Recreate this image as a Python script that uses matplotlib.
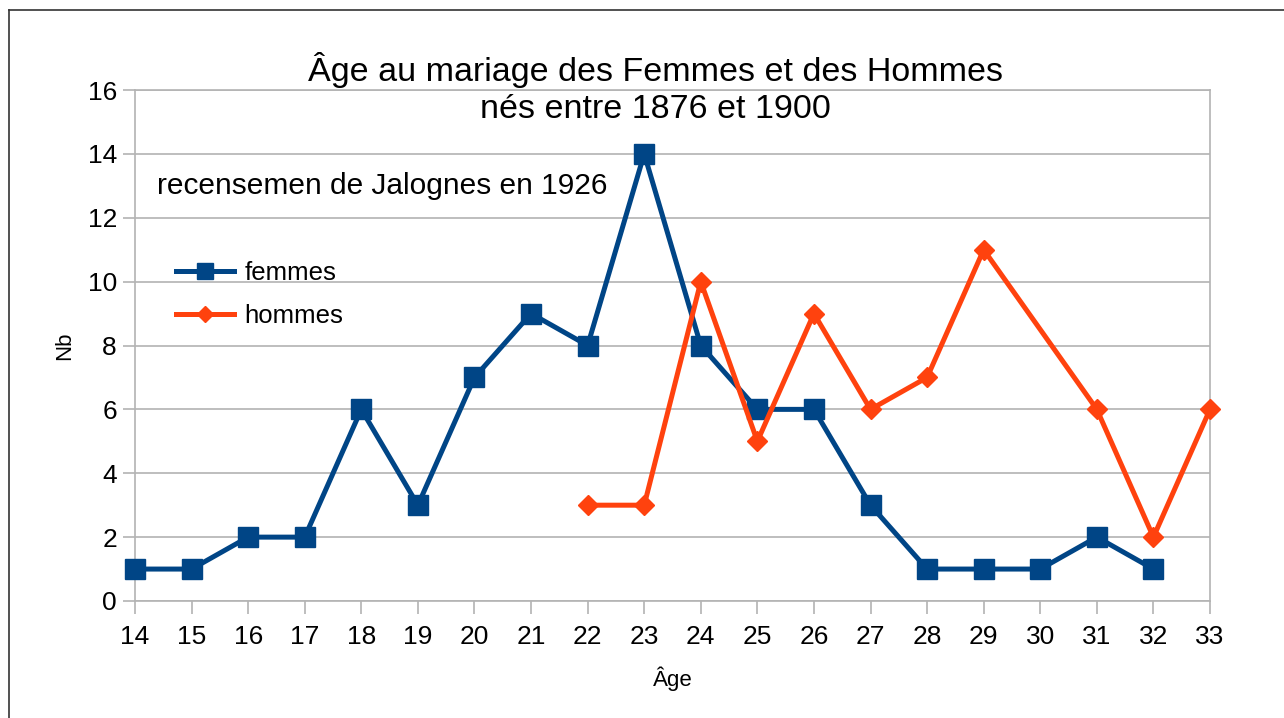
import matplotlib
matplotlib.use("Agg")
import matplotlib.pyplot as plt
from matplotlib.lines import Line2D

plt.rcParams['font.family'] = ['Liberation Sans', 'DejaVu Sans']

# data
ages_femmes = [14, 15, 16, 17, 18, 19, 20, 21, 22, 23, 24, 25, 26, 27, 28, 29, 30, 31, 32]
nb_femmes = [1, 1, 2, 2, 6, 3, 7, 9, 8, 14, 8, 6, 6, 3, 1, 1, 1, 2, 1]
ages_hommes = [22, 23, 24, 25, 26, 27, 28, 29, 31, 32, 33]
nb_hommes = [3, 3, 10, 5, 9, 6, 7, 11, 6, 2, 6]
x_ticks = list(range(14, 34))
y_ticks = list(range(0, 17, 2))

W, H = 1284, 718
fig = plt.figure(figsize=(W / 100, H / 100), dpi=100)
ax = fig.add_axes([135 / W, 1 - 601 / H, (1210 - 135) / W, (601 - 90) / H])

blue = '#004586'
orange = '#ff420e'
grey = '#b3b3b3'

ax.plot(ages_femmes, nb_femmes, color=blue, lw=3.6, marker='s', ms=14,
        label='femmes', clip_on=False, zorder=3)
ax.plot(ages_hommes, nb_hommes, color=orange, lw=3.6, marker='D', ms=10,
        label='hommes', clip_on=False, zorder=3)

ax.set_xlim(14, 33)
ax.set_ylim(0, 16)
ax.set_xticks(x_ticks)
ax.set_yticks(y_ticks)
ax.tick_params(labelsize=19, length=9, width=1.2, color=grey)
ax.tick_params(axis='x', pad=8)
ax.tick_params(axis='y', pad=4)
ax.grid(True, axis='y', color=grey, lw=1.2, zorder=0)
for sp in ax.spines.values():
    sp.set_color(grey)
    sp.set_linewidth(1.2)

ax.set_xlabel('Âge', fontsize=16, labelpad=13)
ax.set_ylabel('Nb', fontsize=16, labelpad=9)

fig.text(655 / W, 1 - 89 / H, 'Âge au mariage des Femmes et des Hommes\nnés entre 1876 et 1900',
         ha='center', va='center', fontsize=24.5, linespacing=1.25)
fig.text(157 / W, 1 - 186 / H, 'recensemen de Jalognes en 1926',
         ha='left', va='center', fontsize=21.5)

leg = ax.legend(loc='upper left', bbox_to_anchor=(31 / (1210 - 135), 1 - 161 / (601 - 90)),
                frameon=False, fontsize=18.5, handlelength=2.25, handletextpad=0.4,
                labelspacing=0.72, borderaxespad=0, markerscale=0.85)

# outer frame of the chart object
fig.add_artist(Line2D([9 / W, 9 / W], [0, 1 - 10 / H], color='#333333', lw=1.2))
fig.add_artist(Line2D([9 / W, 1], [1 - 10 / H, 1 - 10 / H], color='#333333', lw=1.2))

fig.savefig('out.png', dpi=100)
